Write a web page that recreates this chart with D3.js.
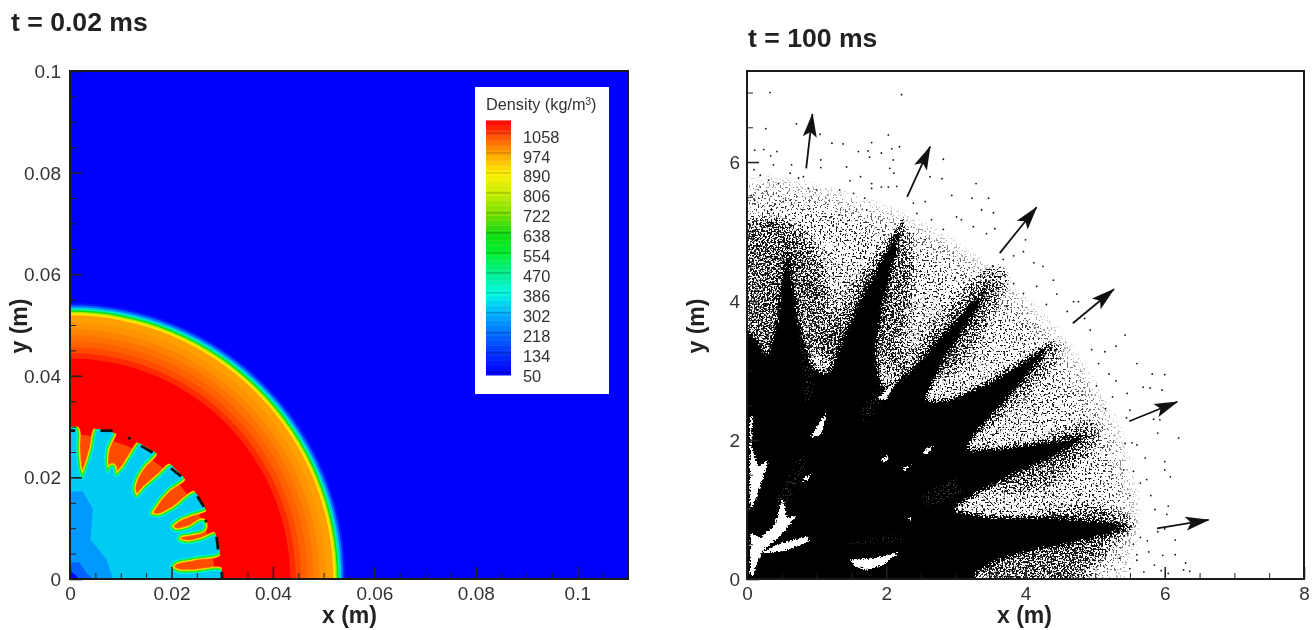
<!DOCTYPE html>
<html>
<head>
<meta charset="utf-8">
<script src="https://cdn.jsdelivr.net/npm/d3@7"></script>
<style>
body { margin: 0; background: #fff; }
svg { filter: blur(0.4px); }
text { font-family: "Liberation Sans", sans-serif; fill: #333; }
</style>
</head>
<body>
<script>
// ---- left panel data ----
var leftTicks = [0, 0.02, 0.04, 0.06, 0.08, 0.1];
var leftTickLabels = ['0', '0.02', '0.04', '0.06', '0.08', '0.1'];
var leftMinorX = [0.005, 0.01, 0.015, 0.025, 0.03, 0.035, 0.045, 0.05, 0.055, 0.065, 0.07, 0.075, 0.085, 0.09, 0.095, 0.105];
var leftMinorY = [0.005, 0.01, 0.015, 0.025, 0.03, 0.035, 0.045, 0.05, 0.055, 0.065, 0.07, 0.075, 0.085, 0.09, 0.095];

var densityTicks = [1058, 974, 890, 806, 722, 638, 554, 470, 386, 302, 218, 134, 50];
var densityStops = [50, 134, 218, 302, 386, 470, 554, 638, 722, 806, 890, 974, 1058, 1108];
var densityColors = ['#0000ff', '#0034ff', '#0070ff', '#00b4ff', '#00fadf', '#00ee90', '#00ee2c', '#14dc10', '#7ce000',
  '#c8ee00', '#fff000', '#ffa000', '#ff4200', '#ff0000'];

// blast wave rings, outermost first
var ringRadius = [0.0543, 0.0539, 0.0535, 0.0532, 0.0529, 0.0526, 0.0523, 0.0519, 0.0505, 0.0492, 0.048, 0.0468, 0.0456, 0.0445, 0.0434];
var ringDensity = [100, 218, 320, 450, 620, 780, 900, 975, 985, 1000, 1015, 1030, 1050, 1075, 1108];
var fingerDiscRadius = 0.0285;
var fingerDensity = 1050;
var coreClipRadius = 0.03;

// outline of the low density core with its fingers
var coreOutline = [[-0.001, 0.0296], [0.0008, 0.0296], [0.0012, 0.0256], [0.0017, 0.0213], [0.0024, 0.0197], [0.0035, 0.022],
  [0.0046, 0.0256], [0.0058, 0.0296], [0.0083, 0.0296], [0.007, 0.0256], [0.0068, 0.0226], [0.0074, 0.0207], [0.0083, 0.022],
  [0.0089, 0.02], [0.0104, 0.0213], [0.0124, 0.0243], [0.014, 0.0265], [0.0165, 0.0252], [0.0143, 0.0226], [0.0127, 0.02],
  [0.0122, 0.0174], [0.013, 0.0159], [0.015, 0.0177], [0.018, 0.0203], [0.0201, 0.0221], [0.0222, 0.0204], [0.0193, 0.018],
  [0.017, 0.0154], [0.0157, 0.0125], [0.017, 0.0121], [0.0203, 0.0134], [0.0253, 0.0165], [0.0267, 0.0144], [0.0237, 0.0131],
  [0.021, 0.0119], [0.0196, 0.0102], [0.0204, 0.0094], [0.0237, 0.0098], [0.0262, 0.011], [0.0263, 0.0103], [0.0237, 0.0093],
  [0.0214, 0.0087], [0.021, 0.0077], [0.0227, 0.0069], [0.0256, 0.0073], [0.0292, 0.0084], [0.0296, 0.0058], [0.0243, 0.0044],
  [0.02, 0.003], [0.0197, 0.0023], [0.0207, 0.0014], [0.0243, 0.0011], [0.0302, 0.0011], [0.0305, -0.002], [-0.002, -0.002]];
var coreShade1 = [[0, 0], [0, 0.0172], [0.0025, 0.0172], [0.0045, 0.0138], [0.004, 0.0078], [0.0072, 0.0039], [0.0085, 0]];
var coreShade2 = [[0, 0], [0, 0.0033], [0.0018, 0.0033], [0.0032, 0.0013], [0.0045, 0]];
var coreShade3 = [[0, 0], [0, 0.0016], [0.0012, 0.0007], [0.0017, 0]];
var coreDensity = [330, 270, 200, 60];

// black marker bits on the core edge
var capSegments = [[[0, 0.0292], [0.0010, 0.0292]], [[0.006, 0.0292], [0.0084, 0.0292]], [[0.014, 0.0262], [0.0163, 0.0249]],
  [[0.0199, 0.0218], [0.0219, 0.0202]], [[0.0251, 0.0163], [0.0264, 0.0142]], [[0.0289, 0.0083], [0.0292, 0.0058]], [[0.0299, 0.0014], [0.03, 0]]];
var capDots = [[0.0117, 0.0277], [0.0268, 0.0114]];

// ---- right panel data ----
var rightXTicks = [0, 2, 4, 6, 8];
var rightYTicks = [0, 2, 4, 6];
var rightMinorX = [0.5, 1, 1.5, 2.5, 3, 3.5, 4.5, 5, 5.5, 6.5, 7, 7.5];
var rightMinorY = [0.5, 1, 1.5, 2.5, 3, 3.5, 4.5, 5, 5.5, 6.5, 7];

var arrowTails = [[0.85, 5.91], [2.3, 5.5], [3.63, 4.69], [4.68, 3.68], [5.49, 2.27], [5.89, 0.73]];
var arrowTips = [[0.94, 6.69], [2.63, 6.22], [4.16, 5.35], [5.27, 4.17], [6.18, 2.55], [6.63, 0.85]];

// regions of the particle cloud and how much of the paper the particles cover there
var outerHaze = [[-0.4, 6.1], [0.6, 5.95], [1.3, 5.8], [2.2, 5.5], [2.9, 5.15], [3.5, 4.75], [4.2, 4.15], [4.85, 3.45], [5.3, 2.7],
  [5.6, 2.15], [5.75, 1.4], [5.9, 0.8], [5.75, 0.3], [5.5, -0.4], [-0.4, -0.4]];
var innerHaze = [[-0.4, 5.2], [1, 4.9], [2, 4.8], [2.8, 4.3], [3.5, 3.8], [4.2, 2.9], [4.6, 2.2], [4.9, 1.2], [4.6, 0.3], [4.3, -0.4], [-0.4, -0.4]];
var outerCover = 0.27;
var innerCover = 0.2;

// wider streak regions round each jet
var jetHalos = [
  [[-0.4, 5.25], [0.55, 5.2], [1.0, 4.9], [1.2, 4.2], [1.3, 3.3], [-0.4, 3]],
  [[1.0, 3], [1.4, 4.1], [1.9, 4.8], [2.3, 5.2], [2.45, 4.6], [2.35, 3.8], [2.2, 3.0]],
  [[2.0, 2.8], [2.6, 3.6], [3.1, 4.2], [3.6, 4.6], [3.8, 4.3], [3.4, 3.5], [3.0, 2.9]],
  [[2.8, 2.3], [3.7, 3.0], [4.3, 3.35], [4.7, 3.6], [4.45, 3.1], [4.0, 2.6], [3.4, 2.1]],
  [[3.0, 1.4], [4.0, 1.95], [4.7, 2.25], [5.15, 2.3], [5.0, 1.85], [4.3, 1.3], [3.7, 1.2]],
  [[3.0, 0.3], [4.2, 1.0], [5.0, 1.12], [5.7, 0.85], [5.3, 0.5], [5.0, 0.15], [4.6, -0.4], [3.6, -0.4]]
];
var haloCover = 0.5;

// solid black part where the particles overlap
var blackOutline = [[-0.4, 3.9], [0.1, 3.5], [0.3, 3.2], [0.42, 3.7], [0.52, 4.5], [0.58, 4.95], [0.66, 4.3], [0.75, 3.7], [0.95, 3.05],
  [1.15, 2.95], [1.35, 3.4], [1.6, 4.0], [1.95, 4.65], [2.3, 5.3], [2.1, 4.5], [1.95, 3.9], [1.85, 3.2], [1.95, 2.75], [2.3, 2.95],
  [2.7, 3.4], [3.15, 3.9], [3.55, 4.35], [3.3, 3.85], [3.0, 3.4], [2.75, 3.0], [2.55, 2.55], [2.95, 2.6], [3.5, 2.85], [4.0, 3.15],
  [4.5, 3.5], [4.05, 2.95], [3.65, 2.5], [3.3, 2.1], [3.15, 1.85], [3.7, 1.9], [4.3, 1.98], [5.0, 2.1], [4.4, 1.75], [3.85, 1.5],
  [3.35, 1.25], [2.95, 1.0], [3.5, 0.9], [4.3, 0.9], [5.0, 0.85], [5.6, 0.75], [4.9, 0.55], [4.2, 0.42], [3.7, 0.3], [3.3, 0.1], [3.2, -0.4], [-0.4, -0.4]];

// white gaps inside the black part
var whiteGaps = [
  [[0.04, 0.06], [0.05, 0.66], [0.19, 0.59], [0.4, 0.78], [0.51, 1.18], [0.57, 0.89], [0.71, 0.9], [0.47, 0.61], [0.23, 0.42], [0.13, 0.18], [0.08, 0.03]],
  [[0.19, 0.37], [0.47, 0.51], [0.86, 0.61], [0.9, 0.54], [0.52, 0.4]],
  [[1.48, 0.28], [1.81, 0.3], [2.2, 0.39], [1.96, 0.2], [1.72, 0.13], [1.53, 0.2]],
  [[0.76, 1.38], [0.93, 1.55], [0.88, 1.43]],
  [[0.9, 2.03], [1.14, 2.41], [1.07, 2.08]],
  [[1.86, 2.58], [2.15, 2.87], [2.0, 2.58]],
  [[2.2, 1.57], [2.41, 1.67], [2.29, 1.57]],
  [[2.49, 1.81], [2.7, 1.95], [2.6, 1.81]],
  [[1.91, 1.69], [2.05, 1.81], [2.0, 1.69]],
  [[2.29, 0.9], [2.44, 0.85], [2.34, 0.85]],
  [[0.04, 2.34], [0.08, 2.34], [0.07, 1.9], [0.16, 1.62], [0.31, 1.71], [0.19, 1.33], [0.09, 1.05], [0.04, 1.0]]
];
// paler patches where the black is only nearly closed
var paleGaps = [[[0.6, 3.9], [1.2, 3.9], [1.0, 2.4], [0.75, 2.4]], [[1.5, 2.4], [2.1, 3.2], [2.3, 2.9], [1.7, 2.0]],
  [[2.3, 1.2], [3.0, 1.6], [3.3, 1.2], [2.6, 0.9]], [[0.25, 1.0], [0.75, 2.0], [1.0, 1.7], [0.6, 0.85]], [[1.1, 0.6], [2.2, 0.75], [2.6, 0.45], [1.4, 0.4]]];
var paleCover = 0.2;

// single particles that can be told apart at the rim of the cloud
var looseParticles = [[0.33, 7.0], [2.22, 6.97], [0.27, 6.48], [0.71, 6.55], [1.05, 6.4], [1.22, 6.27], [1.38, 6.26], [1.6, 6.15], [1.74, 6.16],
  [1.76, 6.07], [1.93, 6.13], [2.08, 6.19], [2.19, 6.22], [2.03, 6.39], [1.79, 6.28], [2.82, 6.04], [2.8, 5.76], [2.63, 5.79], [2.94, 5.52],
  [3.29, 5.69], [3.47, 5.48], [3.23, 5.48], [3.37, 5.31], [3.54, 5.27], [0.11, 6.17], [0.24, 6.18], [0.43, 6.15], [0.34, 6.09], [0.38, 5.96],
  [0.1, 5.89], [0.19, 5.81], [0.31, 5.74], [0.45, 5.69], [0.64, 5.96], [0.62, 5.84], [0.74, 5.77], [0.81, 5.79], [1.06, 6.03], [1.06, 5.92],
  [1.43, 5.93], [1.63, 5.79], [1.48, 5.73], [2.05, 5.91], [2.11, 5.84], [2.1, 6.03], [1.79, 5.69], [1.79, 5.62], [1.93, 5.64], [2.03, 5.64],
  [2.15, 5.65], [1.33, 5.6], [1.53, 5.55], [1.69, 5.48], [0.88, 5.62], [1.0, 5.6], [0.62, 5.45], [0.52, 5.43], [0.28, 5.58], [0.19, 5.64],
  [0.06, 5.52], [0.11, 5.45], [0.35, 5.31], [0.9, 5.33], [1.19, 5.2], [1.43, 5.11], [1.72, 5.31], [2.39, 5.41], [2.56, 5.43], [2.44, 5.26],
  [2.65, 5.17], [2.82, 5.03], [3.01, 5.21], [3.08, 5.17], [3.25, 5.07], [3.44, 4.97], [3.56, 5.04], [2.96, 4.69], [2.77, 4.78], [2.56, 4.88],
  [2.39, 4.97], [2.65, 4.5], [3.68, 4.6], [3.83, 4.65], [3.97, 4.71], [4.0, 4.88], [4.12, 4.55], [4.16, 4.21], [3.83, 4.25], [3.71, 4.35],
  [3.97, 4.11], [3.73, 3.92], [6.0, 2.94], [5.82, 2.95], [5.6, 3.1], [5.69, 2.76], [5.79, 2.75], [5.96, 2.72], [5.46, 2.67], [5.5, 2.43],
  [5.84, 2.3], [5.93, 2.29], [6.2, 2.03], [5.9, 2.1], [6.0, 1.57], [6.08, 1.47], [6.0, 1.69], [6.05, 1.05], [6.03, 0.93], [5.86, 1.0],
  [6.15, 0.56], [6.15, 0.35], [5.97, 0.34], [6.3, 0.23], [6.27, 0.13], [6.36, 0.11], [5.77, 0.39], [5.6, 0.27], [5.6, 0.35], [5.41, 1.57],
  [5.65, 1.38], [5.74, 1.43], [5.53, 1.96], [5.6, 1.93], [5.72, 1.74], [5.43, 1.95], [5.14, 3.27], [4.93, 3.58], [4.69, 3.99], [4.76, 3.99],
  [5.43, 3.51], [5.3, 3.35], [5.05, 3.1], [4.95, 3.3], [5.2, 2.95], [5.02, 2.78], [5.25, 2.62], [5.3, 2.85], [5.45, 2.32], [5.15, 2.45],
  [4.85, 3.75], [4.6, 3.85], [4.45, 4.1], [4.3, 3.95], [4.4, 4.3], [4.25, 4.5], [5.55, 1.55], [5.5, 1.2], [5.8, 1.2], [5.9, 0.68], [6.0, 0.72],
  [5.5, 0.15], [5.7, 0.1], [5.85, 0.2], [5.35, 0.3], [5.95, 0.12], [6.05, 0.08], [5.65, 0.6], [5.75, 0.55], [5.55, 0.5]];

var titleFont = 26.6;
var svg = d3.select('body').append('svg').attr('width', 1314).attr('height', 630);
var defs = svg.append('defs');

defs.append('filter').attr('id', 'soft').append('feGaussianBlur').attr('stdDeviation', 0.45);
defs.append('filter').attr('id', 'softer').append('feGaussianBlur').attr('stdDeviation', 0.7);

// grain filter: blurs the region outlines into a coverage map and breaks it into specks.
// this is only a texture for the cloud regions above, the regions themselves come from the arrays
function addGrain(id, blur, freq, seed, colour) {
  var f = defs.append('filter').attr('id', id).attr('filterUnits', 'userSpaceOnUse')
    .attr('x', 680).attr('y', 40).attr('width', 640).attr('height', 590)
    .attr('color-interpolation-filters', 'sRGB');
  f.append('feGaussianBlur').attr('in', 'SourceAlpha').attr('stdDeviation', blur).attr('result', 'cover');
  f.append('feTurbulence').attr('type', 'fractalNoise').attr('baseFrequency', freq).attr('numOctaves', 1)
    .attr('seed', seed).attr('result', 'noise');
  f.append('feColorMatrix').attr('in', 'noise').attr('type', 'matrix')
    .attr('values', '0 0 0 0 0  0 0 0 0 0  0 0 0 0 0  4 0 0 0 -1.5').attr('result', 'speck');
  f.append('feComposite').attr('in', 'cover').attr('in2', 'speck').attr('operator', 'arithmetic')
    .attr('k1', 0).attr('k2', 10.2).attr('k3', 6).attr('k4', -7.8).attr('result', 'mask');
  f.append('feFlood').attr('flood-color', colour).attr('result', 'ink');
  f.append('feComposite').attr('in', 'ink').attr('in2', 'mask').attr('operator', 'in');
}
addGrain('grainOuter', 24, 0.55, 3, '#111');
addGrain('grainInner', 13, 0.55, 14, '#111');
addGrain('grainHalo', 8, 0.55, 8, '#111');
addGrain('grainBlack', 3, 0.6, 5, '#000');
addGrain('grainGap', 1, 0.6, 11, '#fff');
addGrain('grainPale', 5, 0.6, 21, '#fff');

// ---- left panel ----
var xL = d3.scaleLinear().domain([0, 0.11]).range([70, 628]);
var yL = d3.scaleLinear().domain([0, 0.1]).range([579, 71]);
var colour = d3.scaleLinear().domain(densityStops).range(densityColors);
var lineL = d3.line().x(function(d) { return xL(d[0]); }).y(function(d) { return yL(d[1]); });
var curveL = d3.line().curve(d3.curveCatmullRomClosed.alpha(1)).x(function(d) { return xL(d[0]); }).y(function(d) { return yL(d[1]); });

defs.append('clipPath').attr('id', 'clipL').append('rect').attr('x', 70).attr('y', 71).attr('width', 558).attr('height', 508);
defs.append('clipPath').attr('id', 'clipR').append('rect').attr('x', 747).attr('y', 71).attr('width', 557).attr('height', 508);
defs.append('clipPath').attr('id', 'clipCore').append('ellipse').attr('cx', xL(0)).attr('cy', yL(0))
  .attr('rx', xL(coreClipRadius) - xL(0)).attr('ry', yL(0) - yL(coreClipRadius));

var left = svg.append('g').attr('clip-path', 'url(#clipL)');
left.append('rect').attr('x', 70).attr('y', 71).attr('width', 558).attr('height', 508).attr('fill', colour(50));
var field = left.append('g').attr('filter', 'url(#soft)');

field.selectAll('ellipse.ring').data(ringRadius).enter().append('ellipse').attr('class', 'ring')
  .attr('cx', xL(0)).attr('cy', yL(0))
  .attr('rx', function(d) { return xL(d) - xL(0); })
  .attr('ry', function(d) { return yL(0) - yL(d); })
  .attr('fill', function(d, i) { return colour(ringDensity[i]); });

field.append('ellipse').attr('cx', xL(0)).attr('cy', yL(0))
  .attr('rx', xL(fingerDiscRadius) - xL(0)).attr('ry', yL(0) - yL(fingerDiscRadius))
  .attr('fill', colour(fingerDensity)).attr('filter', 'url(#softer)');

// finger edge goes through the whole colour range, so stack the strokes
var core = field.append('g').attr('clip-path', 'url(#clipCore)');
var edgeLevels = [[8.5, 974], [7, 890], [5.6, 700], [4, 540], [2, 400]];
edgeLevels.forEach(function(e) {
  core.append('path').attr('d', curveL(coreOutline)).attr('fill', 'none')
    .attr('stroke', colour(e[1])).attr('stroke-width', e[0]).attr('stroke-linejoin', 'round');
});
core.append('path').attr('d', curveL(coreOutline)).attr('fill', colour(coreDensity[0]));
[coreShade1, coreShade2, coreShade3].forEach(function(poly, i) {
  core.append('path').attr('d', lineL(poly) + 'Z').attr('fill', colour(coreDensity[i + 1])).attr('filter', 'url(#softer)');
});

left.selectAll('line.cap').data(capSegments).enter().append('line').attr('class', 'cap')
  .attr('x1', function(d) { return xL(d[0][0]); }).attr('y1', function(d) { return yL(d[0][1]); })
  .attr('x2', function(d) { return xL(d[1][0]); }).attr('y2', function(d) { return yL(d[1][1]); })
  .attr('stroke', '#111').attr('stroke-width', 2.8);
left.selectAll('circle.cap').data(capDots).enter().append('circle').attr('class', 'cap')
  .attr('cx', function(d) { return xL(d[0]); }).attr('cy', function(d) { return yL(d[1]); })
  .attr('r', 1.5).attr('fill', '#111');

drawFrame(xL, yL, leftTicks, leftTicks, leftMinorX, leftMinorY, leftTickLabels, leftTickLabels, 61);

// legend
var legend = svg.append('g');
legend.append('rect').attr('x', 475).attr('y', 87).attr('width', 134).attr('height', 307).attr('fill', '#fff');
var barY = d3.scaleLinear().domain([50, 974]).range([372.7, 153]);
var barSteps = d3.range(40, 1108, 21);
legend.append('g').attr('filter', 'url(#soft)').selectAll('rect').data(barSteps).enter().append('rect')
  .attr('x', 486).attr('width', 25)
  .attr('y', function(d) { return barY(d + 21); })
  .attr('height', function(d) { return barY(d) - barY(d + 21) + 0.4; })
  .attr('fill', function(d) { return colour(d + 10); });
legend.selectAll('line').data(densityTicks).enter().append('line')
  .attr('x1', 486).attr('x2', 511)
  .attr('y1', function(d) { return barY(d); }).attr('y2', function(d) { return barY(d); })
  .attr('stroke', '#000').attr('stroke-opacity', 0.25);
legend.selectAll('text.lab').data(densityTicks).enter().append('text').attr('class', 'lab')
  .attr('x', 523).attr('y', function(d) { return barY(d) + 9.5; })
  .attr('font-size', 16.4).text(function(d) { return d; });
var legendTitle = legend.append('text').attr('x', 486).attr('y', 110).attr('font-size', 16.3);
legendTitle.append('tspan').text('Density (kg/m');
legendTitle.append('tspan').attr('dy', -5).attr('font-size', 10).text('3');
legendTitle.append('tspan').attr('dy', 5).text(')');

// ---- right panel ----
var xR = d3.scaleLinear().domain([0, 8]).range([747, 1304]);
var yR = d3.scaleLinear().domain([0, 7.31]).range([579, 71]);
var lineR = d3.line().x(function(d) { return xR(d[0]); }).y(function(d) { return yR(d[1]); });

var cloud = svg.append('g').attr('clip-path', 'url(#clipR)');
function cloudLayer(polys, grain, cover) {
  cloud.append('g').attr('filter', 'url(#' + grain + ')').selectAll('path').data(polys).enter().append('path')
    .attr('d', function(d) { return lineR(d) + 'Z'; }).attr('fill', '#000').attr('fill-opacity', cover);
}
cloudLayer([outerHaze], 'grainOuter', outerCover);
cloudLayer([innerHaze], 'grainInner', innerCover);
cloudLayer(jetHalos, 'grainHalo', haloCover);
cloudLayer([blackOutline], 'grainBlack', 1);
cloudLayer(paleGaps, 'grainPale', paleCover);
cloudLayer(whiteGaps, 'grainGap', 1);
cloud.selectAll('circle').data(looseParticles).enter().append('circle')
  .attr('cx', function(d) { return xR(d[0]); }).attr('cy', function(d) { return yR(d[1]); })
  .attr('r', 0.9).attr('fill', '#111');

// arrows
defs.append('marker').attr('id', 'head').attr('viewBox', '0 0 24 15').attr('refX', 23).attr('refY', 7.5)
  .attr('markerUnits', 'userSpaceOnUse').attr('markerWidth', 24).attr('markerHeight', 15).attr('orient', 'auto')
  .append('path').attr('d', 'M0,0.5 L24,7.5 L0,14.5 L5,7.5 Z').attr('fill', '#111');
svg.selectAll('line.arrow').data(arrowTails).enter().append('line').attr('class', 'arrow')
  .attr('x1', function(d) { return xR(d[0]); }).attr('y1', function(d) { return yR(d[1]); })
  .attr('x2', function(d, i) { return xR(arrowTips[i][0]); }).attr('y2', function(d, i) { return yR(arrowTips[i][1]); })
  .attr('stroke', '#111').attr('stroke-width', 1.8).attr('marker-end', 'url(#head)');

drawFrame(xR, yR, rightXTicks, rightYTicks, rightMinorX, rightMinorY, rightXTicks, rightYTicks, 740);

function drawFrame(x, y, xt, yt, xm, ym, xl, yl, yLabelRight) {
  var bottom = y.range()[0], leftEdge = x.range()[0];
  var ax = svg.append('g').attr('transform', 'translate(0,' + bottom + ')')
    .call(d3.axisBottom(x).tickValues(xt).tickSize(-12).tickPadding(0).tickFormat(function(d, i) { return xl[i]; }));
  ax.selectAll('text').attr('y', 21).attr('dy', 0).attr('font-size', 19).style('font-family', '"Liberation Sans", sans-serif');
  var ay = svg.append('g').attr('transform', 'translate(' + leftEdge + ',0)')
    .call(d3.axisLeft(y).tickValues(yt).tickSize(-12).tickPadding(0).tickFormat(function(d, i) { return yl[i]; }));
  ay.selectAll('text').attr('x', yLabelRight - leftEdge).attr('dy', '0.34em').attr('font-size', 19).style('font-family', '"Liberation Sans", sans-serif');
  var mx = svg.append('g').attr('transform', 'translate(0,' + bottom + ')')
    .call(d3.axisBottom(x).tickValues(xm).tickSize(-6).tickFormat(''));
  var my = svg.append('g').attr('transform', 'translate(' + leftEdge + ',0)')
    .call(d3.axisLeft(y).tickValues(ym).tickSize(-6).tickFormat(''));
  [ax, ay, mx, my].forEach(function(g) {
    g.select('.domain').remove();
    g.selectAll('line').attr('stroke', '#222').attr('stroke-width', 1);
  });
  ax.selectAll('line').attr('stroke-width', 1.6);
  ay.selectAll('line').attr('stroke-width', 1.6);
  svg.append('rect').attr('x', leftEdge).attr('y', y.range()[1])
    .attr('width', x.range()[1] - leftEdge).attr('height', bottom - y.range()[1])
    .attr('fill', 'none').attr('stroke', '#1c1c1c').attr('stroke-width', 2);
}

// titles and axis names
function label(txt, xp, yp, size, rot) {
  var t = svg.append('text').attr('font-size', size).attr('font-weight', 'bold').style('fill', '#222').text(txt);
  if (rot) {
    t.attr('text-anchor', 'middle').attr('transform', 'translate(' + xp + ',' + yp + ') rotate(-90)');
  } else {
    t.attr('x', xp).attr('y', yp);
  }
  return t;
}
label('t = 0.02 ms', 11, 31, titleFont);
label('t = 100 ms', 748, 47, titleFont);
label('x (m)', 322, 623, 23);
label('x (m)', 997, 623, 23);
label('y (m)', 27, 326, 23, true);
label('y (m)', 704, 326, 23, true);
</script>
</body>
</html>
